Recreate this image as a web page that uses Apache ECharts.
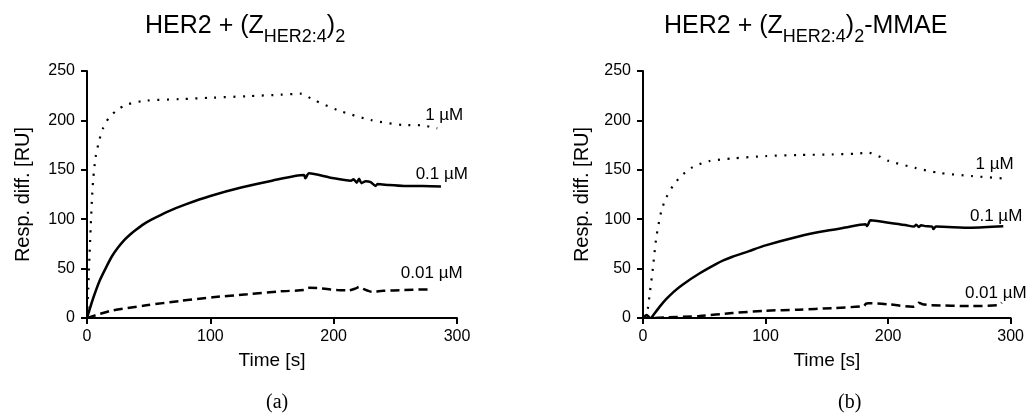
<!DOCTYPE html>
<html>
<head>
<meta charset="utf-8">
<script src="https://cdn.jsdelivr.net/npm/echarts@6/dist/echarts.min.js"></script>
<style>
  html, body {margin: 0; padding: 0; background: #fff;}
  #main {width: 1027px; height: 416px;}
</style>
</head>
<body>
<div id="main"></div>
<script>
// sensorgram values, [time s, response RU]
const xTicks = [0, 100, 200, 300];
const yTicks = [0, 50, 100, 150, 200, 250];
const concLabels = ['1 \u00b5M', '0.1 \u00b5M', '0.01 \u00b5M'];

// (a) HER2 + (Z_HER2:4)2
const a_1uM = [[0,0],[1,30],[2,62],[3,92],[4,120],[5,140],[7,163],[10,180],[13,192],[18,203],[24,210],[32,216],[48,220],[75,221.5],[102,223],[130,224.5],[157,226],[173,227],[184,220.6],[203,210.5],[230,200.4],[257,195.3],[271,195],[284,192]];
const a_01uM = [[0,0],[5,20],[10,37],[15,50],[20,62],[25,71],[30,78.5],[35,84.5],[40,89.5],[46,95],[53,100],[65,107.5],[80,115],[100,123.5],[125,132],[150,139],[176,144.7],[177,141.4],[180,146.4],[197.6,142],[214,139],[216,140.4],[218.7,137],[220.6,141],[222.5,136.5],[226,138.5],[230,137.5],[234,133.6],[235.5,135.6],[245,134.5],[257,133.6],[272,133.5],[287,133]];
const a_001uM = [[0,0],[10,4],[21,7.8],[48,12.8],[75,17.2],[102,21],[130,24],[157,27],[176,28.3],[178,30],[180,30.5],[190,30],[203,28.3],[212,28],[218,30],[220.6,31.5],[224,29.5],[231,26.6],[240,27.5],[257,28.3],[277,29]];

// (b) HER2 + (Z_HER2:4)2-MMAE
const b_1uM = [[2,0],[4,10],[5.4,23.6],[8.1,50.7],[10.8,81],[14.9,108],[18.9,121.6],[24.3,133.4],[31,143.6],[40.5,152.7],[54,158.8],[73,161.5],[100,163.9],[127,165],[154,165.5],[173.4,166.3],[184,167.3],[200.5,159],[222,152],[241,147],[268,143.7],[292.7,141.4]];
const b_01uM = [[6.8,0],[10,5.5],[14,12],[18.9,19],[25,26.5],[32,33.5],[46,45],[59.5,54.5],[66,58.5],[73,62],[86,67.5],[100,73.5],[127,82.5],[146,87.5],[165,91.5],[181.6,94.8],[183,93],[185.6,98.9],[200.5,96.5],[214,94.1],[221,92.5],[223,94.5],[225,92],[227,94],[230,93],[236,92.5],[237,90],[239,92.5],[268,91.4],[294,92.8]];
const b_001uM = [[0,0],[3,3],[6,0],[19,0.7],[46,2],[73,5],[100,7.4],[127,8.4],[154,10],[180,12.1],[182,14.5],[184,15],[200.5,13.8],[220,11.4],[223,13],[225,15.5],[228,14],[235,13],[268,12.1],[290,13],[292.7,15.5]];

const font = 'Liberation Sans, Arial, sans-serif';

function xAxis(idx) {
  return {
    type: 'value', gridIndex: idx, min: xTicks[0], max: xTicks[xTicks.length - 1], interval: 100,
    name: 'Time [s]', nameLocation: 'middle', nameGap: 33,
    nameTextStyle: {fontFamily: font, fontSize: 19, color: '#000'},
    axisLine: {lineStyle: {color: '#000', width: 2}},
    axisTick: {length: 6, lineStyle: {color: '#000', width: 2}},
    axisLabel: {fontFamily: font, fontSize: 16, color: '#000', margin: 11},
    splitLine: {show: false}
  };
}
function yAxis(idx) {
  return {
    type: 'value', gridIndex: idx, min: yTicks[0], max: yTicks[yTicks.length - 1], interval: 50,
    name: 'Resp. diff. [RU]', nameLocation: 'middle', nameGap: idx === 0 ? 54 : 51,
    nameTextStyle: {fontFamily: font, fontSize: 20, color: '#000'},
    axisLine: {show: true, lineStyle: {color: '#000', width: 2}},
    axisTick: {show: true, length: 6, lineStyle: {color: '#000', width: 2}},
    axisLabel: {fontFamily: font, fontSize: 16, color: '#000', margin: 12},
    splitLine: {show: false}
  };
}

const styles = [
  {type: [2, 7.5], width: 2.2},
  {type: 'solid', width: 2.5},
  {type: [9, 5], width: 2.5}
];
const labelOffsets = {
  a: [[26, -13], [27, -12], [34, -16]],
  b: [[12, -14], [19, -10], [25, -9]]
};

function line(idx, data, k, panel) {
  return {
    type: 'line', xAxisIndex: idx, yAxisIndex: idx, data: data,
    showSymbol: false, smooth: 0.25,
    lineStyle: Object.assign({color: '#000'}, styles[k]),
    endLabel: {
      show: true, formatter: concLabels[k], fontFamily: font, fontSize: 17, color: '#000',
      align: 'right', verticalAlign: 'middle', distance: 0, offset: labelOffsets[panel][k]
    },
    emphasis: {disabled: true}
  };
}

const titleRich = {
  m: {fontFamily: font, fontSize: 25, fontWeight: 'normal', color: '#000', lineHeight: 36, verticalAlign: 'top'},
  s: {fontFamily: font, fontSize: 18, fontWeight: 'normal', color: '#000', lineHeight: 36, verticalAlign: 'top', padding: [14, 0, 0, 0]}
};

const option = {
  animation: false,
  backgroundColor: '#fff',
  title: [
    {text: '{m|HER2 + (Z}{s|HER2:4}{m|)}{s|2}', left: 145, top: 14, padding: 0, textStyle: {fontWeight: 'normal', rich: titleRich}},
    {text: '{m|HER2 + (Z}{s|HER2:4}{m|)}{s|2}{m|-MMAE}', left: 664, top: 14, padding: 0, textStyle: {fontWeight: 'normal', rich: titleRich}},
    {text: '(a)', left: 266, top: 393, padding: 0, textStyle: {fontFamily: 'Liberation Serif, Times New Roman, serif', fontSize: 20, fontWeight: 'normal', color: '#000'}},
    {text: '(b)', left: 838, top: 393, padding: 0, textStyle: {fontFamily: 'Liberation Serif, Times New Roman, serif', fontSize: 20, fontWeight: 'normal', color: '#000'}}
  ],
  grid: [
    {left: 87, top: 71, width: 370, height: 247},
    {left: 643, top: 71, width: 370, height: 247}
  ],
  xAxis: [xAxis(0), xAxis(1)],
  yAxis: [yAxis(0), yAxis(1)],
  series: [
    line(0, a_1uM, 0, 'a'),
    line(0, a_01uM, 1, 'a'),
    line(0, a_001uM, 2, 'a'),
    line(1, b_1uM, 0, 'b'),
    line(1, b_01uM, 1, 'b'),
    line(1, b_001uM, 2, 'b')
  ]
};

const chart = echarts.init(document.getElementById('main'));
chart.setOption(option);
</script>
</body>
</html>
